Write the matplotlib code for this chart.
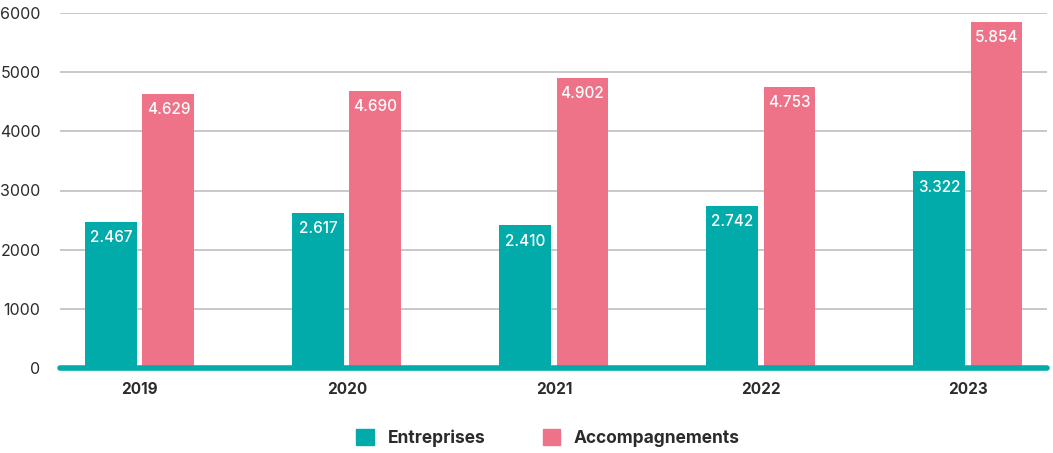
import matplotlib
matplotlib.use("Agg")
import matplotlib.pyplot as plt
from matplotlib.patches import Patch
import numpy as np

years = ["2019", "2020", "2021", "2022", "2023"]
entreprises = [2467, 2617, 2410, 2742, 3322]
accompagnements = [4629, 4690, 4902, 4753, 5854]
entreprises_labels = ["2.467", "2.617", "2.410", "2.742", "3.322"]
accompagnements_labels = ["4.629", "4.690", "4.902", "4.753", "5.854"]
series_names = ["Entreprises", "Accompagnements"]

TEAL = "#00ABAA"
PINK = "#EE7388"
TEXT = "#2b2b2b"
FONT = "Inter"

W, H = 1053, 453
fig = plt.figure(figsize=(W / 100, H / 100), dpi=100)
ax = fig.add_axes([60 / W, (H - 368) / H, (1047 - 60) / W, (368 - 13) / H])

x = np.arange(len(years))
bw = 0.251
off = 0.138
b1 = ax.bar(x - off, entreprises, width=bw, color=TEAL, zorder=3)
b2 = ax.bar(x + off, accompagnements, width=bw, color=PINK, zorder=3)

for bars, labs in ((b1, entreprises_labels), (b2, accompagnements_labels)):
    for rect, lab in zip(bars, labs):
        ax.annotate(lab, (rect.get_x() + rect.get_width() / 2, rect.get_height()),
                    xytext=(0, -6), textcoords="offset points", ha="center", va="top",
                    color="white", fontsize=11, fontfamily=FONT, fontweight="medium", zorder=4)

ax.set_xlim(-0.386, 4.382)
ax.set_ylim(0, 6000)
ax.set_yticks([0, 1000, 2000, 3000, 4000, 5000, 6000])
ax.yaxis.grid(True, color="#c4c4c4", linewidth=1.3, zorder=0)
ax.set_axisbelow(True)
for s in ax.spines.values():
    s.set_visible(False)
ax.axhline(0, color=TEAL, linewidth=4, solid_capstyle="round", zorder=5, clip_on=False)

ax.set_xticks(x)
ax.set_xticklabels(years, fontsize=11, fontweight="bold", color=TEXT, fontfamily=FONT)
ax.tick_params(axis="x", length=0, pad=10)
ax.tick_params(axis="y", length=0, pad=14, labelsize=11.5, labelcolor=TEXT)
for t in ax.get_yticklabels():
    t.set_fontfamily(FONT)

handles = [Patch(color=TEAL, label=series_names[0]), Patch(color=PINK, label=series_names[1])]
leg = fig.legend(handles=handles, loc="center", bbox_to_anchor=(548 / W, (H - 438) / H), ncol=2,
                 frameon=False, handlelength=1.0, handleheight=1.0, handletextpad=0.8,
                 columnspacing=3.3, prop={"family": FONT, "weight": "bold", "size": 12.5})
for t in leg.get_texts():
    t.set_color(TEXT)

fig.savefig("out.png", dpi=100)
